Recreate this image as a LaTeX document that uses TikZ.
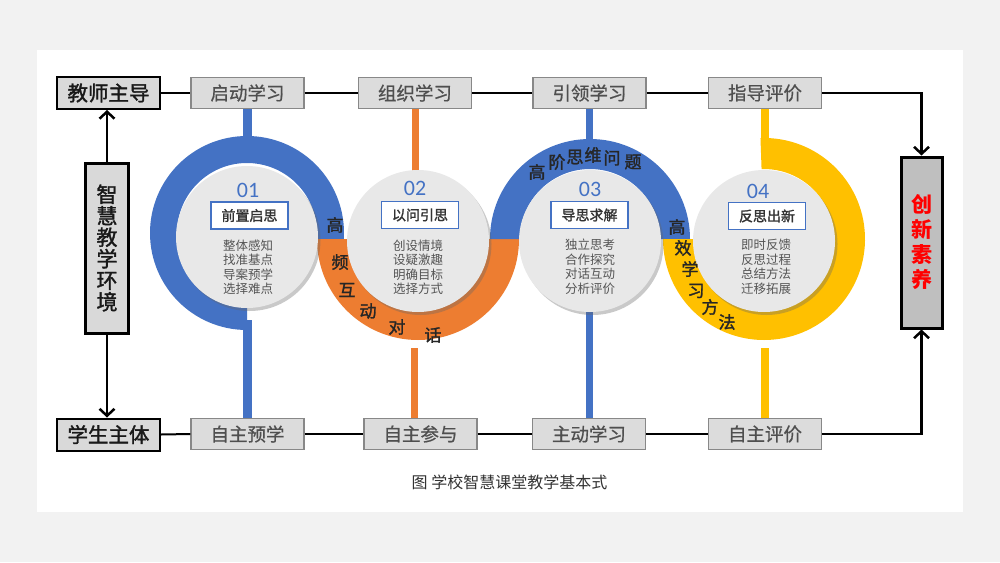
\documentclass[tikz,border=0pt]{standalone}
\usepackage{fontspec}
\setmainfont{Noto Sans CJK SC}
\newfontfamily\numfont{Carlito}
\newfontfamily\medfont[FakeBold=1.6]{Noto Sans CJK SC}
\newfontfamily\semifont[FakeBold=0.7]{Noto Sans CJK SC}
\usetikzlibrary{arrows.meta,shadows}
\definecolor{bgout}{HTML}{F2F2F2}
\definecolor{cblue}{HTML}{4472C4}
\definecolor{corange}{HTML}{ED7D31}
\definecolor{cyellow}{HTML}{FFC000}
\definecolor{discfill}{HTML}{E8E8E8}
\definecolor{boxfill}{HTML}{DCDCDC}
\definecolor{boxline}{HTML}{888888}
\definecolor{boxtext}{HTML}{4F4F4F}
\definecolor{mainfill}{HTML}{D9D9D9}
\definecolor{innfill}{HTML}{BFBFBF}
\definecolor{innred}{HTML}{FF0000}
\definecolor{listtext}{HTML}{555555}
\definecolor{captext}{HTML}{333333}
\newcommand\ringseg[6]{\fill[#1,shift={(#2)}] (#3:#6) arc[start angle=#3,end angle=#4,radius=#6] -- (#4:#5) arc[start angle=#4,end angle=#3,radius=#5] -- cycle;}
\begin{document}
\begin{tikzpicture}[x=1pt,y=-1pt,
  topbox/.style={draw=boxline,fill=boxfill,line width=1.3pt,minimum width=113pt,minimum height=31pt,inner sep=0pt,text=boxtext,font=\semifont\fontsize{18.5}{20}\selectfont},
  mainbox/.style={draw=black,fill=mainfill,line width=2pt,minimum width=103pt,minimum height=32pt,inner sep=0pt,text=black!90,font=\medfont\fontsize{20.5}{22}\selectfont},
  vbox/.style={draw=black,line width=3pt,inner sep=0pt,minimum width=43pt,minimum height=170pt,align=center},
  conn/.style={draw=black,line width=2pt},
  arr/.style={draw=black,line width=2.5pt,-{Straight Barb[length=7pt,width=15pt]}},
  disc/.style={circle,fill=discfill,minimum size=142pt,inner sep=0pt,drop shadow={shadow xshift=2.5pt,shadow yshift=-3pt,opacity=0.35,fill=black!60}},
  num/.style={font=\numfont\fontsize{22}{24}\selectfont,text=cblue,inner sep=0pt},
  lbox/.style={draw=cblue,fill=white,line width=1.3pt,minimum width=77pt,minimum height=27pt,inner sep=0pt,font=\medfont\fontsize{14}{16}\selectfont,text=black!80},
  list/.style={align=center,font=\fontsize{12.5}{14.5}\selectfont,text=listtext,inner sep=0pt},
  rt/.style={font=\medfont\fontsize{17}{18}\selectfont,inner sep=0pt,text=black!85},
]
\fill[bgout] (0,0) rectangle (1000,562);
\fill[white] (37,50) rectangle (963,512);
\useasboundingbox (0,0) rectangle (1000,562);

% boxes
\node[mainbox] (tch) at (108.5,93) {教师主导};
\node[mainbox] (stu) at (108.5,434.5) {学生主体};
\node[vbox,fill=mainfill,text=black!90,font=\medfont\fontsize{21}{21.5}\selectfont] (env) at (107,248) {智\\慧\\教\\学\\环\\境};
\node[vbox,fill=innfill,minimum width=41pt,minimum height=171pt,text=innred,font=\fontsize{21}{25}\selectfont\bfseries] (inn) at (921.5,242.5) {创\\新\\素\\养};

\node[topbox] (t1) at (247.5,93) {启动学习};
\node[topbox] (t2) at (415,93) {组织学习};
\node[topbox] (t3) at (589.5,93) {引领学习};
\node[topbox] (t4) at (765,93) {指导评价};
\node[topbox] (b1) at (247.5,434) {自主预学};
\node[topbox] (b2) at (420.5,434) {自主参与};
\node[topbox] (b3) at (589,434) {主动学习};
\node[topbox] (b4) at (765,434) {自主评价};

% connectors
\draw[conn] (tch.east) -- (t1.west);
\draw[conn] (t1.east) -- (t2.west);
\draw[conn] (t2.east) -- (t3.west);
\draw[conn] (t3.east) -- (t4.west);
\draw[conn] (stu.east) -- (b1.west);
\draw[conn] (b1.east) -- (b2.west);
\draw[conn] (b2.east) -- (b3.west);
\draw[conn] (b3.east) -- (b4.west);
\draw[arr] (env.north) -- (env.north |- tch.south);
\draw[arr] (env.south) -- (env.south |- stu.north);
\draw[arr] (t4.east) -| (inn.north);
\draw[arr] (b4.east) -| (inn.south);

% stems
\coordinate (s1t) at (247,150);
\coordinate (s1b) at (247,320);
\coordinate (s2t) at (415,185);
\coordinate (s2b) at (414.5,348);
\coordinate (s3t) at (589.5,150);
\coordinate (s3b) at (589.5,300);
\coordinate (s4t) at (764.5,150);
\coordinate (s4b) at (764.5,348);
\draw[cblue,line width=9pt] (s1t |- t1.south) -- (s1t);
\draw[cblue,line width=9pt] (s1b) -- (s1b |- b1.north);
\draw[corange,line width=7pt] (s2t |- t2.south) -- (s2t);
\draw[corange,line width=7pt] (s2b) -- (s2b |- b2.north);
\draw[cblue,line width=7pt] (s3t |- t3.south) -- (s3t);
\draw[cblue,line width=7pt] (s3b) -- (s3b |- b3.north);
\draw[cyellow,line width=8pt] (s4t |- t4.south) -- (s4t);
\draw[cyellow,line width=8pt] (s4b) -- (s4b |- b4.north);

% rings
\ringseg{cblue}{247,233}{-270}{5}{70}{97}
\ringseg{corange}{418,239}{0}{180}{70}{101}
\ringseg{cblue}{590,239}{180}{360}{70}{100}
\ringseg{cyellow}{764,239}{-92}{180}{70}{101}

% discs
\node[disc] (d1) at (247,237) {};
\node[disc] (d2) at (418,241) {};
\node[disc] (d3) at (590,241) {};
\node[disc] (d4) at (764,241) {};

% disc contents
\node[num] (n1) at (248,190) {01};
\node[lbox] (l1) at (249.5,215.5) {前置启思};
\node[list] (k1) at (248,267) {整体感知\\找准基点\\导案预学\\选择难点};
\node[num] (n2) at (415,188) {02};
\node[lbox] (l2) at (420,215) {以问引思};
\node[list] (k2) at (418,267) {创设情境\\设疑激趣\\明确目标\\选择方式};
\node[num] (n3) at (590,189) {03};
\node[lbox] (l3) at (589.5,215) {导思求解};
\node[list] (k3) at (590,267) {独立思考\\合作探究\\对话互动\\分析评价};
\node[num] (n4) at (758,191) {04};
\node[lbox] (l4) at (767,216) {反思出新};
\node[list] (k4) at (766,267) {即时反馈\\反思过程\\总结方法\\迁移拓展};

% ring texts
\node[rt] (w1) at (335,225) {高};
\node[rt] (w2) at (340,262) {频};
\node[rt] (w3) at (347,290) {互};
\node[rt] (w4) at (368,311) {动};
\node[rt] (w5) at (397,327) {对};
\node[rt] (w6) at (433,335) {话};
\node[rt] (w7) at (537,172) {高};
\node[rt] (w8) at (557,162) {阶};
\node[rt] (w9) at (575,157) {思};
\node[rt] (w10) at (593,155) {维};
\node[rt] (w11) at (612,158) {问};
\node[rt] (w12) at (633,162) {题};
\node[rt] (w13) at (677,227) {高};
\node[rt] (w14) at (683,248) {效};
\node[rt] (w15) at (690,269) {学};
\node[rt] (w16) at (696,291) {习};
\node[rt] (w17) at (710,307) {方};
\node[rt] (w18) at (727,322) {法};

% caption
\node[font=\fontsize{16}{18}\selectfont,text=captext,inner sep=0pt] (cap) at (509.5,482) {图 学校智慧课堂教学基本式};
\end{tikzpicture}
\end{document}
